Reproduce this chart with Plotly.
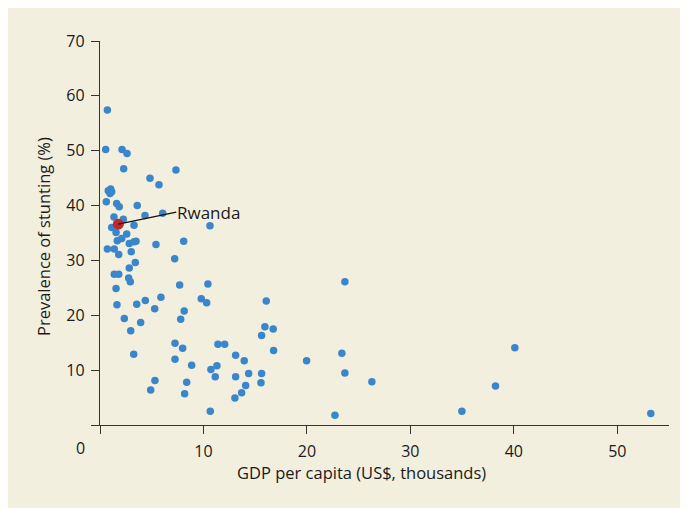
import plotly.graph_objects as go

# GDP per capita (US$, thousands) and prevalence of stunting (%)
gdp = [0.71, 0.55, 2.13, 2.61, 2.29, 7.34, 4.83, 5.70, 0.80, 1.03, 1.13, 0.97,
       0.61, 1.61, 1.86, 3.60, 4.35, 6.06, 1.35, 2.25, 10.63, 3.29, 1.13, 1.55,
       2.58, 2.10, 1.67, 2.83, 3.29, 3.48, 5.41, 8.09, 0.71, 1.38, 1.81, 3.02,
       7.22, 3.41, 2.83, 1.38, 1.81, 2.77, 2.93, 1.55, 7.70, 10.43, 9.79, 10.31,
       1.64, 3.55, 4.38, 5.89, 5.29, 8.14, 7.80, 2.35, 3.93, 2.97, 7.25, 7.99,
       11.40, 12.05, 3.26, 7.25, 8.86, 10.72, 11.30, 11.14, 5.31, 8.38, 4.90, 8.18,
       10.66, 16.07, 15.94, 16.74, 15.62, 16.78, 13.11, 13.94, 19.97, 13.11, 14.37,
       15.62, 15.56, 14.08, 13.69, 13.04, 23.67, 23.38, 23.67, 26.28, 22.71, 40.10,
       38.23, 34.98, 53.24]
stunting = [57.4, 50.2, 50.2, 49.5, 46.7, 46.5, 45.0, 43.8, 42.7, 43.0, 42.5, 42.2,
            40.7, 40.4, 39.8, 40.0, 38.2, 38.6, 37.9, 37.5, 36.3, 36.4, 36.0, 35.1,
            34.8, 34.0, 33.6, 33.1, 33.4, 33.5, 32.9, 33.5, 32.1, 32.1, 31.1, 31.6,
            30.3, 29.6, 28.6, 27.5, 27.5, 26.8, 26.1, 24.9, 25.5, 25.7, 23.0, 22.3,
            21.9, 22.0, 22.7, 23.3, 21.2, 20.8, 19.3, 19.4, 18.7, 17.2, 14.9, 14.0,
            14.7, 14.7, 12.9, 12.0, 10.9, 10.1, 10.8, 8.8, 8.1, 7.8, 6.4, 5.7,
            2.5, 22.6, 17.9, 17.5, 16.3, 13.6, 12.7, 11.7, 11.7, 8.8, 9.4,
            9.4, 7.7, 7.2, 5.9, 4.9, 26.1, 13.1, 9.5, 7.9, 1.8, 14.1,
            7.1, 2.5, 2.1]

highlight_name = "Rwanda"
highlight_gdp = [1.77]
highlight_stunting = [36.6]

x_ticks = [0, 10, 20, 30, 40, 50]
x_ticktext = ["", "10", "20", "30", "40", "50"]
y_ticks = [0, 10, 20, 30, 40, 50, 60, 70]
y_ticktext = ["", "10", "20", "30", "40", "50", "60", "70"]

FONT = "Open Sans"
BEIGE = "#F3EFDE"
BLUE = "#3A86CC"
RED = "#C1282D"
AXIS = "#333333"
TXT = "#1a1a1a"

# figure sits at page offset (8, 8) because of the default body margin
OFF = 8
W, H = 680, 500
L, R, T, B = 92, 19, 33, 83
pw, ph = W - L - R, H - T - B


def px_x(p):
    return (p - OFF - L) / pw


def px_y(p):
    return (H - B - (p - OFF)) / ph


fig = go.Figure()
fig.add_trace(go.Scatter(x=gdp, y=stunting, mode="markers",
                         marker=dict(color=BLUE, size=7.5, line=dict(width=0)),
                         showlegend=False))
fig.add_trace(go.Scatter(x=highlight_gdp, y=highlight_stunting, mode="markers",
                         marker=dict(color=RED, size=11, line=dict(width=0)),
                         showlegend=False))

fig.update_layout(
    width=W, height=H,
    margin=dict(l=L, r=R, t=T, b=B, autoexpand=False),
    paper_bgcolor=BEIGE, plot_bgcolor=BEIGE,
    font=dict(family=FONT, size=16, color=TXT),
    xaxis=dict(range=[0, 55], tickvals=x_ticks, ticktext=x_ticktext,
               showgrid=False, zeroline=False, showline=True, linecolor=AXIS,
               linewidth=1.4, ticks="outside", ticklen=8, tickwidth=1.4,
               tickcolor=AXIS, tickfont=dict(family=FONT, size=16, color=TXT),
               ticklabelstandoff=4, fixedrange=True),
    yaxis=dict(range=[0, 70], tickvals=y_ticks, ticktext=y_ticktext,
               showgrid=False, zeroline=False, showline=True, linecolor=AXIS,
               linewidth=1.4, ticks="outside", ticklen=8, tickwidth=1.4,
               tickcolor=AXIS, tickfont=dict(family=FONT, size=16, color=TXT),
               ticklabelstandoff=3, fixedrange=True),
    annotations=[
        dict(text="0", xref="paper", yref="paper", x=px_x(80.7), y=px_y(447.5),
             xanchor="center", yanchor="middle", showarrow=False,
             font=dict(family=FONT, size=16, color=TXT)),
        dict(text="GDP per capita (US$, thousands)", xref="paper", yref="paper",
             x=px_x(361), y=px_y(472), xanchor="center", yanchor="middle",
             showarrow=False, font=dict(family=FONT, size=16.5, color=TXT)),
        dict(text="Prevalence of stunting (%)", xref="paper", yref="paper",
             x=px_x(43), y=px_y(237), xanchor="center", yanchor="middle",
             textangle=-90, showarrow=False,
             font=dict(family=FONT, size=16.5, color=TXT)),
        dict(text=highlight_name, x=highlight_gdp[0], y=highlight_stunting[0],
             xref="x", yref="y", ax=58, ay=-12, xanchor="left", yanchor="middle",
             showarrow=True, arrowhead=0, arrowwidth=1.3, arrowcolor="#111111",
             standoff=0, startstandoff=0, borderpad=0,
             font=dict(family=FONT, size=17, color=TXT)),
    ],
)

fig.write_html("out.html")
